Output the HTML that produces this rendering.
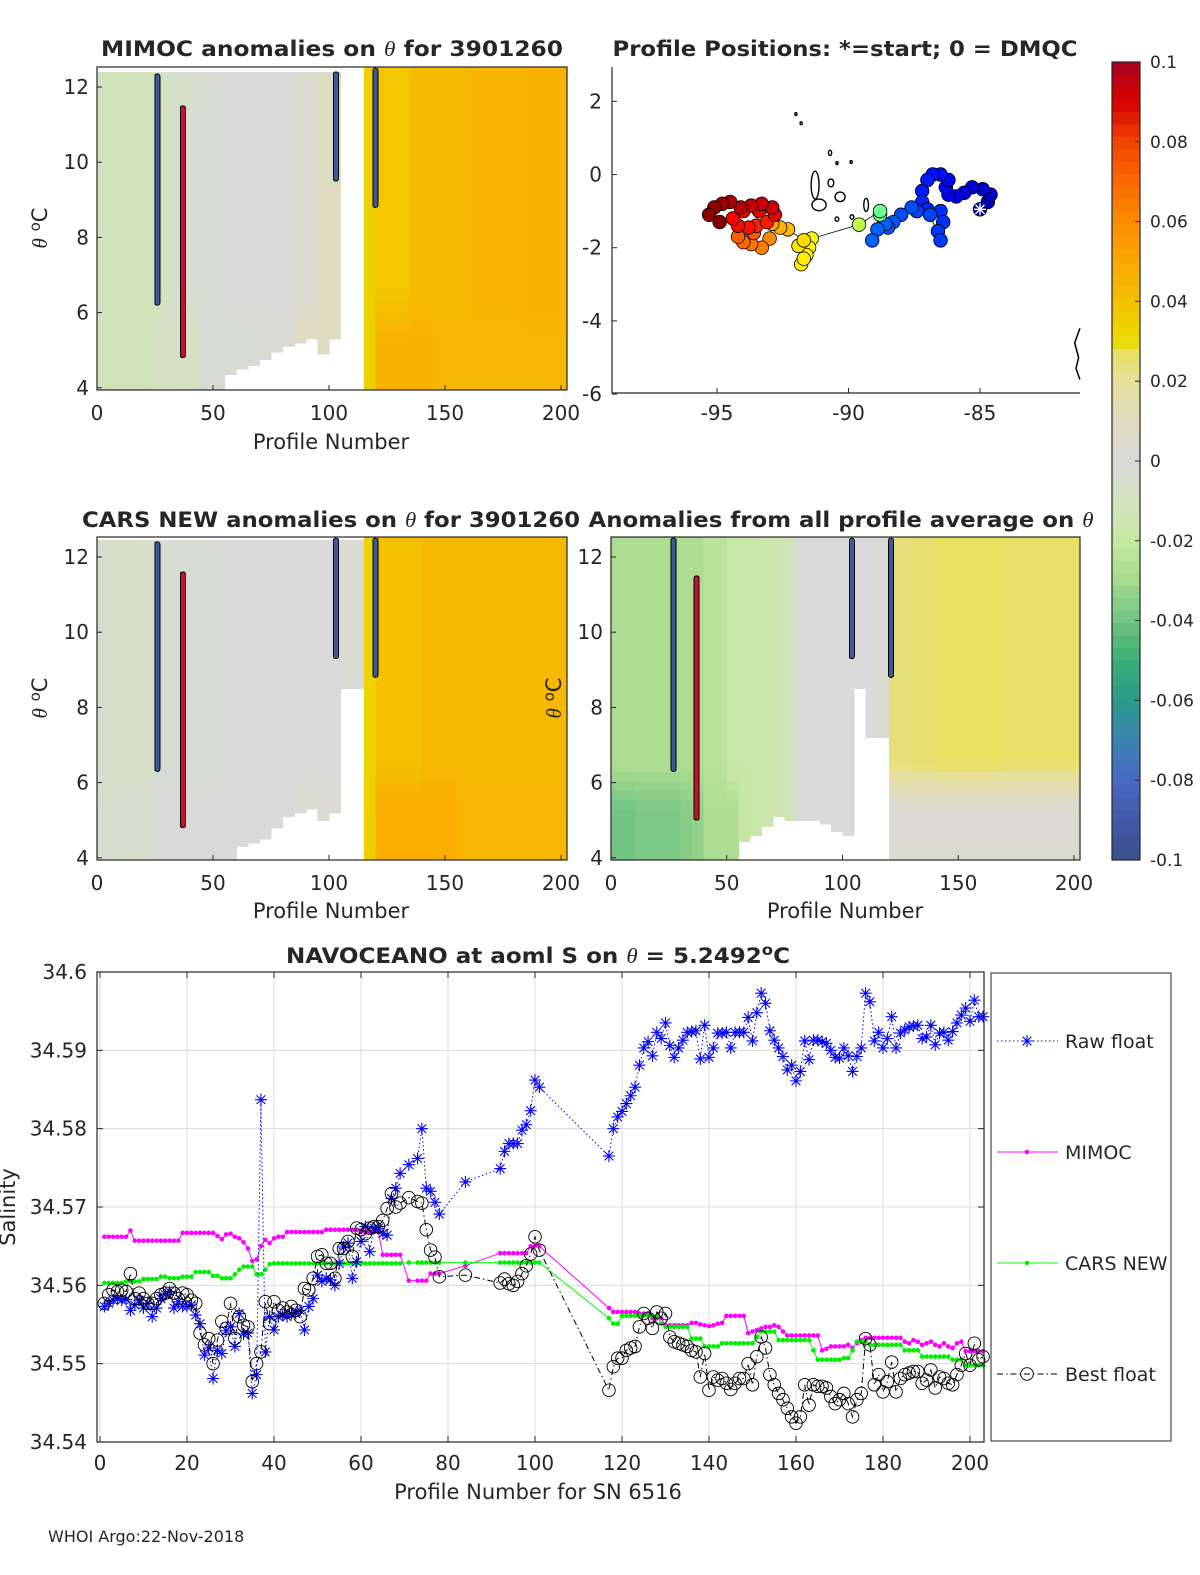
<!DOCTYPE html>
<html><head><meta charset="utf-8"><title>Argo float 3901260 anomaly figure</title>
<style>
html,body{margin:0;padding:0;background:#fff;}
svg{display:block;font-family:"DejaVu Sans","Liberation Sans",sans-serif;}
text{fill:#262626;}
</style></head>
<body>
<svg id="fig" xmlns="http://www.w3.org/2000/svg" width="1200" height="1575" viewBox="0 0 1200 1575">
<rect x="0" y="0" width="1200" height="1575" fill="#fff"/>
<g id="layer-heat"></g>
<g id="layer-axes"></g>

<text x="332" y="56" font-size="21" font-weight="bold" text-anchor="middle" textLength="462" lengthAdjust="spacingAndGlyphs">MIMOC anomalies on <tspan font-family="Liberation Serif" font-style="italic" font-weight="normal">θ</tspan>  for 3901260</text>
<text x="845" y="56" font-size="21" font-weight="bold" text-anchor="middle" textLength="465" lengthAdjust="spacingAndGlyphs">Profile Positions: *=start; 0 = DMQC</text>
<text x="331" y="527" font-size="21" font-weight="bold" text-anchor="middle" textLength="498" lengthAdjust="spacingAndGlyphs">CARS NEW anomalies on <tspan font-family="Liberation Serif" font-style="italic" font-weight="normal">θ</tspan> for 3901260</text>
<text x="841" y="527" font-size="21" font-weight="bold" text-anchor="middle" textLength="505" lengthAdjust="spacingAndGlyphs">Anomalies from all profile average on <tspan font-family="Liberation Serif" font-style="italic" font-weight="normal">θ</tspan></text>
<text x="538" y="963" font-size="21" font-weight="bold" text-anchor="middle" textLength="504" lengthAdjust="spacingAndGlyphs">NAVOCEANO at aoml S on <tspan font-family="Liberation Serif" font-style="italic" font-weight="normal">θ</tspan> = 5.2492<tspan dy="-8" font-size="15">o</tspan><tspan dy="8">C</tspan></text>

<text x="331" y="449" font-size="21" text-anchor="middle">Profile Number</text>
<text x="331" y="918" font-size="21" text-anchor="middle">Profile Number</text>
<text x="845" y="918" font-size="21" text-anchor="middle">Profile Number</text>
<text transform="translate(47,228) rotate(-90)" font-size="21" text-anchor="middle"><tspan font-family="Liberation Serif" font-style="italic">θ</tspan> <tspan dy="-7" font-size="15">o</tspan><tspan dy="7">C</tspan></text>
<text transform="translate(47,698) rotate(-90)" font-size="21" text-anchor="middle"><tspan font-family="Liberation Serif" font-style="italic">θ</tspan> <tspan dy="-7" font-size="15">o</tspan><tspan dy="7">C</tspan></text>
<text transform="translate(561,698) rotate(-90)" font-size="21" text-anchor="middle"><tspan font-family="Liberation Serif" font-style="italic">θ</tspan> <tspan dy="-7" font-size="15">o</tspan><tspan dy="7">C</tspan></text>
<text transform="translate(15,1207) rotate(-90)" font-size="21" text-anchor="middle">Salinity</text>
<text x="538" y="1499" font-size="21" text-anchor="middle">Profile Number for SN 6516</text>
<text x="48" y="1542" font-size="16">WHOI Argo:22-Nov-2018</text>
</svg>

<script>
// ---------------- Salinity chart data ----------------
const profiles = [1,2,3,4,5,6,7,8,9,10,11,12,13,14,15,16,17,18,19,20,21,22,23,24,25,26,27,28,29,30,31,32,33,34,35,36,37,38,39,40,41,42,43,44,45,46,47,48,49,50,51,52,53,54,55,56,57,58,59,60,61,62,63,64,65,66,67,68,69,
71,73,74,75,76,77,78,84,92,93,94,95,96,97,98,99,100,101,
117,118,119,120,121,122,123,124,125,126,127,128,129,130,131,132,133,134,135,136,137,138,139,140,141,142,143,144,145,146,147,148,149,150,151,152,153,154,155,156,157,158,159,160,161,162,163,164,165,166,167,168,169,170,171,172,173,174,175,176,177,178,179,180,181,182,183,184,185,186,187,188,189,190,191,192,193,194,195,196,197,198,199,200,201,202,203];

const rawFloat = [34.5573,34.5577,34.5581,34.5583,34.5581,34.5582,34.5568,34.5575,34.5581,34.5571,34.5577,34.5560,34.5571,34.5583,34.5588,34.5592,34.5571,34.5579,34.5573,34.5573,34.5575,34.5562,
34.5551,34.5511,34.5520,34.5481,34.5517,34.5513,34.5542,34.5547,34.5522,34.5564,34.5538,34.5539,34.5462,34.5486,34.5837,34.5515,34.5560,34.5543,34.5560,34.5562,34.5560,34.5564,34.5564,34.5568,34.5543,34.5573,34.5583,34.5613,34.5605,34.5609,34.5607,34.5600,34.5628,34.5649,34.5654,34.5609,34.5630,34.5656,34.5675,34.5643,34.5673,34.5673,34.5666,34.5664,34.5711,34.5724,34.5743,
34.5754,34.5762,34.5800,34.5724,34.5720,34.5706,34.5691,34.5732,34.5749,34.5771,34.5781,34.5781,34.5781,34.5798,34.5805,34.5823,34.5862,34.5853,
34.5765,34.5800,34.5815,34.5822,34.5832,34.5842,34.5853,34.5881,34.5903,34.5911,34.5893,34.5923,34.5915,34.5935,34.5906,34.5891,34.5903,34.5913,34.5923,34.5924,34.5925,34.5889,34.5932,34.5891,34.5903,34.5922,34.5922,34.5923,34.5903,34.5923,34.5923,34.5923,34.5942,34.5912,34.5948,34.5973,34.5960,34.5925,34.5913,34.5903,34.5892,34.5875,34.5881,34.5861,34.5873,34.5912,34.5888,34.5913,34.5913,34.5911,34.5909,34.5900,34.5891,34.5890,34.5903,34.5893,34.5873,34.5892,34.5903,34.5973,34.5962,34.5912,34.5923,34.5903,34.5915,34.5943,34.5903,34.5922,34.5926,34.5930,34.5931,34.5932,34.5915,34.5917,34.5932,34.5907,34.5922,34.5923,34.5913,34.5924,34.5935,34.5945,34.5954,34.5937,34.5964,34.5943,34.5943];

const mimoc = [34.5662,34.5662,34.5662,34.5662,34.5662,34.5662,34.5670,34.5657,34.5657,34.5657,34.5657,34.5657,34.5657,34.5657,34.5657,34.5657,34.5657,34.5657,34.5667,34.5667,34.5667,34.5667,34.5667,34.5667,34.5667,34.5667,
34.5663,34.5659,34.5665,34.5666,34.5662,34.5660,34.5655,34.5647,34.5631,34.5633,34.5650,34.5658,34.5654,34.5660,34.5662,34.5662,
34.5668,34.5668,34.5668,34.5668,34.5668,34.5668,34.5668,34.5668,34.5668,34.5671,34.5671,34.5671,34.5671,34.5671,34.5671,34.5671,34.5671,34.5668,34.5668,34.5668,34.5668,34.5668,34.5639,34.5639,34.5639,34.5639,34.5639,
34.5606,34.5606,34.5606,34.5606,34.5615,34.5615,34.5615,34.5625,34.5641,34.5641,34.5641,34.5641,34.5641,34.5641,34.5641,34.5650,34.5650,34.5650,
34.5571,34.5566,34.5566,34.5566,34.5566,34.5566,34.5566,34.5564,34.5564,34.5564,34.5558,34.5558,34.5558,34.5549,34.5549,34.5549,34.5549,34.5549,34.5549,34.5552,34.5552,34.5550,34.5549,34.5548,34.5549,34.5551,34.5552,34.5561,34.5561,34.5561,34.5561,34.5561,
34.5539,34.5541,34.5543,34.5545,34.5547,34.5547,34.5549,34.5547,34.5541,34.5536,34.5536,34.5536,34.5536,34.5536,34.5536,34.5536,34.5536,34.5517,34.5519,34.5522,34.5522,34.5522,34.5522,34.5524,34.5520,34.5526,34.5530,
34.5533,34.5533,34.5533,34.5533,34.5533,34.5533,34.5533,34.5533,34.5533,34.5528,34.5526,34.5530,34.5528,34.5524,34.5526,34.5528,34.5524,34.5522,34.5526,34.5522,34.5520,34.5526,34.5528,34.5516,34.5516,34.5516,34.5516,34.5516];

const carsNew = [34.5603,34.5603,34.5603,34.5603,34.5603,34.5605,34.5605,34.5605,34.5605,34.5608,34.5608,34.5608,34.5608,34.5611,34.5611,34.5609,34.5609,34.5609,34.5611,34.5611,34.5611,34.5617,34.5617,34.5617,34.5617,34.5612,34.5612,34.5609,34.5609,34.5609,34.5614,34.5620,34.5624,34.5624,34.5624,34.5614,34.5614,34.5620,34.5627,
34.5628,34.5628,34.5628,34.5628,34.5628,34.5628,34.5628,34.5628,34.5628,34.5628,34.5628,34.5628,34.5628,34.5628,34.5628,34.5628,34.5628,34.5628,34.5628,34.5628,34.5628,34.5628,34.5628,34.5628,34.5628,34.5628,34.5628,34.5628,34.5628,34.5628,
34.5629,34.5629,34.5629,34.5629,34.5629,34.5629,34.5629,34.5629,34.5629,34.5629,34.5629,34.5629,34.5629,34.5629,34.5629,34.5629,34.5629,34.5629,
34.5558,34.5551,34.5551,34.5561,34.5561,34.5561,34.5561,34.5561,34.5561,34.5561,34.5561,34.5561,34.5551,34.5547,34.5547,34.5547,34.5547,34.5547,34.5547,34.5532,34.5532,34.5532,34.5522,34.5522,34.5522,34.5522,
34.5526,34.5526,34.5526,34.5526,34.5526,34.5526,34.5526,34.5526,34.5534,34.5541,34.5541,34.5541,34.5541,34.5530,34.5530,34.5530,34.5530,34.5530,34.5530,34.5530,34.5530,34.5517,34.5505,34.5505,34.5505,34.5505,34.5505,34.5505,34.5507,34.5507,34.5517,34.5528,34.5528,34.5528,
34.5524,34.5524,34.5524,34.5524,34.5524,34.5524,34.5524,34.5524,34.5517,34.5517,34.5517,34.5517,34.5509,34.5509,34.5509,34.5509,34.5509,34.5509,34.5509,34.5505,34.5505,34.5505,34.5498,34.5498,34.5498,34.5498,34.5498];

const bestFloat = [34.5577,34.5588,34.5594,34.5592,34.5594,34.5592,34.5615,34.5583,34.5590,34.5583,34.5577,34.5577,34.5583,34.5588,34.5590,34.5596,34.5590,34.5583,34.5590,34.5588,34.5581,34.5577,
34.5539,34.5524,34.5532,34.5500,34.5530,34.5554,34.5545,34.5577,34.5532,34.5560,34.5549,34.5547,34.5477,34.5500,34.5515,34.5579,34.5551,34.5579,34.5568,34.5571,34.5566,34.5573,34.5568,34.5560,34.5596,34.5594,34.5609,34.5637,34.5639,34.5628,34.5628,34.5609,34.5647,34.5647,34.5656,34.5637,34.5673,34.5671,34.5666,34.5673,34.5675,34.5675,34.5683,34.5698,34.5717,34.5700,34.5705,
34.5712,34.5707,34.5705,34.5671,34.5645,34.5636,34.5611,34.5613,34.5603,34.5608,34.5602,34.5600,34.5605,34.5615,34.5625,34.5640,34.5662,34.5645,
34.5466,34.5496,34.5507,34.5507,34.5517,34.5520,34.5522,34.5547,34.5564,34.5558,34.5545,34.5566,34.5558,34.5564,34.5534,34.5528,34.5526,34.5524,34.5522,34.5517,34.5515,34.5483,34.5513,34.5466,34.5483,34.5479,34.5481,34.5475,34.5467,34.5475,34.5481,34.5481,34.5500,34.5473,34.5509,34.5534,34.5520,34.5486,34.5473,34.5462,34.5454,34.5443,34.5432,34.5424,34.5432,34.5473,34.5447,34.5473,34.5471,34.5471,34.5469,34.5458,34.5449,34.5454,34.5462,34.5449,34.5432,34.5454,34.5462,34.5532,34.5524,34.5473,34.5486,34.5464,34.5477,34.5502,34.5464,34.5481,34.5486,34.5488,34.5490,34.5490,34.5475,34.5479,34.5492,34.5469,34.5483,34.5481,34.5475,34.5473,34.5486,34.5498,34.5513,34.5498,34.5526,34.5505,34.5509];

const salXTicks = [0,20,40,60,80,100,120,140,160,180,200];
const salYTicks = [34.54,34.55,34.56,34.57,34.58,34.59,34.6];
const salYTickLabels = ["34.54","34.55","34.56","34.57","34.58","34.59","34.6"];
const legendLabels = ["Raw float","MIMOC","CARS NEW","Best float"];

// ---------------- Heatmap data (5-profile bins, 0..205) ----------------
const mimocUpper = [-0.012,-0.012,-0.012,-0.012,-0.012,-0.010,-0.006,-0.006,-0.003,-0.003,-0.003,0,0,0,0,0,0,0.004,0.004,0.010,0.010,null,null,0.034,0.038,0.038,0.038,0.042,0.042,0.042,0.042,0.042,0.045,0.045,0.045,0.045,0.045,0.046,0.046,0.046,0.046];
const mimocLower = [-0.012,-0.012,-0.012,-0.012,-0.012,-0.008,-0.008,-0.008,-0.008,-0.002,-0.002,-0.002,-0.002,-0.002,0.002,0.002,0.002,0.010,0.010,0.010,0.010,null,null,0.034,0.046,0.046,0.046,0.046,0.046,0.044,0.044,0.044,0.044,0.044,0.044,0.044,0.044,0.044,0.044,0.044,0.044];
const mimocBottom = [3.9,3.9,3.9,3.9,3.9,3.9,3.9,3.9,3.9,3.9,3.9,4.35,4.5,4.6,4.75,4.95,5.1,5.2,5.3,4.9,5.3,99,99,3.9,3.9,3.9,3.9,3.9,3.9,3.9,3.9,3.9,3.9,3.9,3.9,3.9,3.9,3.9,3.9,3.9,3.9];
const mimocTop = [12.4,12.4,12.4,12.4,12.4,12.4,12.4,12.4,12.4,12.4,12.4,12.4,12.4,12.4,12.4,12.4,12.4,12.4,12.4,12.4,12.4,12.4,12.4,12.6,12.6,12.6,12.6,12.6,12.6,12.6,12.6,12.6,12.6,12.6,12.6,12.6,12.6,12.6,12.6,12.6,12.6];

const carsUpper = [-0.006,-0.006,-0.006,-0.006,-0.006,-0.002,-0.002,-0.002,-0.002,-0.002,-0.002,0,0,0,0,0,0,0,0,0,0,0.002,0.002,0.033,0.040,0.040,0.040,0.040,0.043,0.043,0.043,0.043,0.043,0.043,0.043,0.043,0.043,0.043,0.043,0.043,0.043];
const carsLower = [-0.004,-0.004,-0.004,-0.004,-0.004,0,0,0,0,0,0,0,0,0,0,0,0,0.003,0.003,0.003,0.003,0.002,0.002,0.035,0.048,0.048,0.048,0.048,0.048,0.048,0.048,0.044,0.044,0.044,0.044,0.044,0.044,0.044,0.044,0.044,0.044];
const carsBottom = [3.9,3.9,3.9,3.9,3.9,3.9,3.9,3.9,3.9,3.9,3.9,3.9,4.3,4.4,4.5,4.8,5.1,5.2,5.3,5.0,5.2,8.5,8.5,3.9,3.9,3.9,3.9,3.9,3.9,3.9,3.9,3.9,3.9,3.9,3.9,3.9,3.9,3.9,3.9,3.9,3.9];
const carsTop = [12.45,12.45,12.45,12.45,12.45,12.45,12.45,12.45,12.45,12.45,12.45,12.45,12.45,12.45,12.45,12.45,12.45,12.45,12.45,12.45,12.45,12.45,12.45,12.6,12.6,12.6,12.6,12.6,12.6,12.6,12.6,12.6,12.6,12.6,12.6,12.6,12.6,12.6,12.6,12.6,12.6];

const avgUpper = [-0.028,-0.028,-0.028,-0.028,-0.028,-0.028,-0.028,-0.028,-0.024,-0.024,-0.018,-0.018,-0.018,-0.016,-0.014,-0.012,0,0,0,0,0,0,0,0.004,0.024,0.024,0.025,0.025,0.027,0.027,0.027,0.027,0.027,0.027,0.026,0.026,0.026,0.026,0.026,0.026,0.026];
const avgLower = [-0.040,-0.040,-0.038,-0.038,-0.038,-0.038,-0.036,-0.034,-0.028,-0.028,-0.028,-0.020,-0.018,-0.016,-0.014,-0.012,0,0,0,0,0,0,0,0.002,0.003,0.003,0.003,0.003,0.003,0.003,0.003,0.003,0.003,0.003,0.003,0.003,0.003,0.003,0.003,0.003,0.003];
const avgBottom = [3.9,3.9,3.9,3.9,3.9,3.9,3.9,3.9,3.9,3.9,3.9,4.43,4.6,4.83,5.1,5.0,5.0,5.0,4.9,4.7,4.6,8.5,7.2,7.2,3.9,3.9,3.9,3.9,3.9,3.9,3.9,3.9,3.9,3.9,3.9,3.9,3.9,3.9,3.9,3.9,3.9];
const avgTop = [12.55,12.55,12.55,12.55,12.55,12.55,12.55,12.55,12.55,12.55,12.55,12.55,12.55,12.55,12.55,12.55,12.55,12.55,12.55,12.55,12.55,12.55,12.55,12.55,12.55,12.55,12.55,12.55,12.55,12.55,12.55,12.55,12.55,12.55,12.55,12.55,12.55,12.55,12.55,12.55,12.55];

const markerProfiles = [26,37,103,120];
const markerThetaTop = [12.35,11.5,12.4,12.5];
const markerThetaBottom = [6.2,4.8,9.5,8.8];
const markerKind = ["blue","red","blue","blue"];
const avgMarkerProfiles = [27,37,104,121];
const avgMarkerThetaTop = [12.5,11.5,12.5,12.5];
const avgMarkerThetaBottom = [6.3,5.0,9.3,8.8];

const heatXTicks = [0,50,100,150,200];
const heatYTicks = [4,6,8,10,12];

// ---------------- Positions data ----------------
const posLon = [-85.0,-84.7,-84.6,-84.9,-85.3,-85.6,-85.9,-86.2,-86.3,-86.2,-86.5,-86.8,-87.0,-87.2,-87.2,-87.0,-86.5,-86.4,-86.6,-86.5,-86.9,-87.4,-87.6,-88.0,-88.3,-88.5,-88.6,-88.9,-89.1,-88.8,-88.8,-89.6,
-91.4,-91.5,-91.6,-91.8,-91.7,-91.9,-91.7,-92.3,-92.6,-92.9,-93.0,-93.3,-93.7,-94.0,-94.2,-93.6,-93.5,-93.1,-93.8,-94.2,-94.4,-94.0,-93.4,-92.8,-92.9,-93.3,-93.7,-94.1,-94.5,-94.8,-95.1,-95.3,-94.9];
const posLat = [-0.95,-0.75,-0.55,-0.4,-0.35,-0.5,-0.6,-0.55,-0.35,-0.15,0.0,0.0,-0.15,-0.45,-0.75,-0.95,-1.0,-1.3,-1.55,-1.8,-1.1,-1.0,-0.9,-1.1,-1.3,-1.45,-1.35,-1.5,-1.8,-1.1,-1.0,-1.37,
-1.75,-2.0,-2.2,-2.45,-2.3,-1.95,-1.8,-1.5,-1.45,-1.35,-1.75,-2.0,-1.9,-1.85,-1.7,-1.6,-1.4,-1.3,-1.45,-1.4,-1.2,-1.0,-1.0,-1.1,-0.9,-0.8,-0.85,-0.9,-0.75,-0.8,-0.9,-1.1,-1.3];
// relative time (0=start, 1=end) of each position, drives the jet colour
const posTime = [0.03,0.05,0.07,0.08,0.09,0.10,0.11,0.12,0.13,0.13,0.14,0.14,0.15,0.15,0.16,0.16,0.17,0.17,0.18,0.18,0.19,0.19,0.20,0.20,0.21,0.21,0.22,0.22,0.22,0.48,0.48,0.56,
0.62,0.63,0.63,0.64,0.64,0.65,0.66,0.69,0.70,0.71,0.74,0.75,0.76,0.77,0.78,0.79,0.84,0.85,0.86,0.87,0.88,0.89,0.90,0.90,0.92,0.93,0.94,0.95,0.96,0.97,0.98,0.99,1.0];
const posXTicks = [-95,-90,-85];
const posYTicks = [2,0,-2,-4,-6];
const islandLon = [-91.27,-91.12,-90.67,-90.32,-89.33,-90.44,-89.87,-92.0,-91.8,-90.7,-90.44,-89.9];
const islandLat = [-0.29,-0.83,-0.23,-0.61,-0.83,-1.22,-1.16,1.65,1.4,0.59,0.31,0.34];
const islandRx = [0.15,0.27,0.11,0.19,0.09,0.07,0.07,0.04,0.04,0.06,0.04,0.04];
const islandRy = [0.38,0.16,0.11,0.13,0.18,0.06,0.06,0.04,0.04,0.07,0.04,0.04];
const coastLon = [-81.2,-81.4,-81.25,-81.35,-81.2];
const coastLat = [-4.2,-4.6,-5.0,-5.3,-5.6];

const cbTicks = [0.1,0.08,0.06,0.04,0.02,0,-0.02,-0.04,-0.06,-0.08,-0.1];
const cbTickLabels = ["0.1","0.08","0.06","0.04","0.02","0","-0.02","-0.04","-0.06","-0.08","-0.1"];
const cmapVals = [-0.1,-0.09,-0.08,-0.07,-0.06,-0.05,-0.04,-0.03,-0.02,-0.01,0,0.01,0.02,0.027,0.03,0.04,0.05,0.06,0.07,0.08,0.09,0.1];
const cmapCols = ["#3b4f8a","#4359a8","#4768c4","#3b82b0","#2c9a8a","#3aae76","#72c484","#a6da8e","#c6e8a2","#d4e2c0","#d9d9d9","#dedcc0","#e6e09c","#e8e060","#eadc00","#f4c000","#fba800","#fd8c00","#fb6800","#ef4400","#d80000","#a80020"];

const NS = "http://www.w3.org/2000/svg";
const svg = document.getElementById("fig");
const heatLayer = document.getElementById("layer-heat");
const axLayer = document.getElementById("layer-axes");
function mk(tag, attrs, parent){
  const e = document.createElementNS(NS, tag);
  for (const k in attrs) e.setAttribute(k, attrs[k]);
  (parent || axLayer).appendChild(e);
  return e;
}
function hex2rgb(h){ return [parseInt(h.slice(1,3),16),parseInt(h.slice(3,5),16),parseInt(h.slice(5,7),16)]; }
function cmap(v){
  if (v <= cmapVals[0]) return cmapCols[0];
  if (v >= cmapVals[cmapVals.length-1]) return cmapCols[cmapCols.length-1];
  for (let i=0;i<cmapVals.length-1;i++){
    if (v >= cmapVals[i] && v <= cmapVals[i+1]){
      const t = (v-cmapVals[i])/(cmapVals[i+1]-cmapVals[i]);
      const a = hex2rgb(cmapCols[i]), b = hex2rgb(cmapCols[i+1]);
      return "rgb("+a.map((c,j)=>Math.round(c+(b[j]-c)*t)).join(",")+")";
    }
  }
  return cmapCols[0];
}
function jet(t){
  const r = Math.min(1,Math.max(0,1.5-Math.abs(4*t-3)));
  const g = Math.min(1,Math.max(0,1.5-Math.abs(4*t-2)));
  const b = Math.min(1,Math.max(0,1.5-Math.abs(4*t-1)));
  return "rgb("+Math.round(r*255)+","+Math.round(g*255)+","+Math.round(b*255)+")";
}

function heatPanel(cfg, upper, lower, bottom, top, mProf, mTop, mBot){
  const px = p => cfg.x0 + p*cfg.sx;
  const py = th => cfg.yRef - (th-12)*cfg.sy;
  const clipId = cfg.name + "-clip";
  const cp = mk("clipPath", {id: clipId}, svg);
  mk("rect", {x: cfg.left, y: cfg.top, width: cfg.right-cfg.left, height: cfg.bottom-cfg.top}, cp);
  const g = mk("g", {"clip-path": "url(#"+clipId+")", "shape-rendering": "crispEdges"}, heatLayer);
  
  
  for (let i=0;i<upper.length;i++){
    if (upper[i] === null) continue;
    for (let t0=3.8; t0<12.8; t0+=0.25){
      const lo = Math.max(t0, bottom[i]), hi = Math.min(t0+0.25, top[i]);
      if (hi <= lo) continue;
      const tc = (lo+hi)/2;
      let w = (tc - 5.3)/1.2; w = Math.max(0, Math.min(1, w));
      const v = lower[i] + (upper[i]-lower[i])*w;
      const r = mk("rect", {x: px(5*i), y: py(hi), width: 5*cfg.sx+0.6, height: py(lo)-py(hi)+0.6, fill: cmap(v)}, g);
      
      
    }
  }
  for (let k=0;k<mProf.length;k++){
    const col = markerKind[k] === "red" ? "#c8102e" : "#3c5a9a";
    const bar = mk("rect", {x: px(mProf[k])-2.5, y: py(mTop[k]), width: 5, height: py(mBot[k])-py(mTop[k]), fill: col, stroke: "#000", "stroke-width": 1, rx: 2}, g);
    
    
  }
  heatFrame(cfg, px, py);
}
function heatFrame(cfg, px, py){
  const box = mk("rect", {x: cfg.left, y: cfg.top, width: cfg.right-cfg.left, height: cfg.bottom-cfg.top, fill: "none", stroke: "#262626", "stroke-width": 1.2});
  
  
  heatXTicks.forEach(t => {
    const x = px(t);
    const tk = mk("line", {x1: x, x2: x, y1: cfg.bottom, y2: cfg.bottom-5, stroke: "#262626"});
    
    
    const lb = mk("text", {x: x, y: cfg.bottom+30, "font-size": 20, "text-anchor": "middle"});
    lb.textContent = String(t);
    
    
  });
  heatYTicks.forEach(t => {
    const y = py(t);
    const tk = mk("line", {x1: cfg.left, x2: cfg.left+5, y1: y, y2: y, stroke: "#262626"});
    
    
    const lb = mk("text", {x: cfg.left-8, y: y+7, "font-size": 20, "text-anchor": "end"});
    lb.textContent = String(t);
    
    
  });
}
heatPanel({name:"mimoc", x0:97, sx:2.32, yRef:87, sy:37.6, left:97, right:567, top:67, bottom:390}, mimocUpper, mimocLower, mimocBottom, mimocTop, markerProfiles, markerThetaTop, markerThetaBottom);
heatPanel({name:"cars", x0:97, sx:2.32, yRef:557, sy:37.6, left:97, right:567, top:537, bottom:860}, carsUpper, carsLower, carsBottom, carsTop, markerProfiles, [12.4,11.6,12.5,12.5], [6.3,4.8,9.3,8.8]);
heatPanel({name:"average", x0:611, sx:2.315, yRef:557, sy:37.6, left:611, right:1080, top:537, bottom:860}, avgUpper, avgLower, avgBottom, avgTop, avgMarkerProfiles, avgMarkerThetaTop, avgMarkerThetaBottom);

(function(){
  const L=612, R=1080, T=67, B=393;
  const lx = lon => 717 + (lon+95)*26.3;
  const ly = lat => 174.5 - lat*36.6;
  const g = mk("g", {});
  
  
  for (let k=0;k<islandLon.length;k++){
    const isl = mk("ellipse", {cx: lx(islandLon[k]), cy: ly(islandLat[k]), rx: islandRx[k]*26.3, ry: islandRy[k]*36.6, fill: "none", stroke: "#000", "stroke-width": 1.4}, g);
    
    
  }
  const coast = mk("polyline", {points: coastLon.map((v,i)=>lx(v)+","+ly(coastLat[i])).join(" "), fill: "none", stroke: "#000", "stroke-width": 1.5}, g);
  
  
  const track = mk("polyline", {points: posLon.map((v,i)=>lx(v)+","+ly(posLat[i])).join(" "), fill: "none", stroke: "#000", "stroke-width": 0.8}, g);
  
  
  for (let k=0;k<posLon.length;k++){
    const c = mk("circle", {cx: lx(posLon[k]), cy: ly(posLat[k]), r: 6.8, fill: jet(posTime[k]), stroke: "#000", "stroke-width": 0.8}, g);
    
    
  }
  const sx = lx(posLon[0]), sy = ly(posLat[0]);
  const star = mk("path", {d: "M"+(sx-6)+" "+sy+"H"+(sx+6)+"M"+sx+" "+(sy-6)+"V"+(sy+6)+"M"+(sx-4.5)+" "+(sy-4.5)+"L"+(sx+4.5)+" "+(sy+4.5)+"M"+(sx-4.5)+" "+(sy+4.5)+"L"+(sx+4.5)+" "+(sy-4.5), stroke: "#fff", "stroke-width": 1.4}, g);
  
  
  const box = mk("path", {d: "M"+L+" "+T+"V"+B+"H"+R, fill: "none", stroke: "#262626", "stroke-width": 1.2});
  
  
  posXTicks.forEach(t => {
    const tk = mk("line", {x1: lx(t), x2: lx(t), y1: B, y2: B-5, stroke: "#262626"});
    
    
    const lb = mk("text", {x: lx(t), y: B+27, "font-size": 20, "text-anchor": "middle"});
    lb.textContent = String(t);
    
    
  });
  posYTicks.forEach(t => {
    const tk = mk("line", {x1: L, x2: L+5, y1: ly(t), y2: ly(t), stroke: "#262626"});
    
    
    const lb = mk("text", {x: L-10, y: ly(t)+7, "font-size": 20, "text-anchor": "end"});
    lb.textContent = String(t);
    
    
  });
})();

(function(){
  const L=1112, W=28, T=62, B=860;
  const cy = v => T + (0.1 - v)/0.2*(B-T);
  const g = mk("g", {"shape-rendering": "crispEdges"});
  
  
  const n = 64;
  for (let i=0;i<n;i++){
    const v1 = 0.1 - 0.2*i/n, v2 = 0.1 - 0.2*(i+1)/n;
    const r = mk("rect", {x: L, y: cy(v1), width: W, height: cy(v2)-cy(v1)+0.5, fill: cmap((v1+v2)/2)}, g);
    
    
  }
  const fr = mk("rect", {x: L, y: T, width: W, height: B-T, fill: "none", stroke: "#262626", "stroke-width": 1.2});
  
  
  cbTicks.forEach((t,i) => {
    const tk = mk("line", {x1: L+W-5, x2: L+W, y1: cy(t), y2: cy(t), stroke: "#262626"});
    
    
    const lb = mk("text", {x: L+W+10, y: cy(t)+6, "font-size": 17});
    lb.textContent = cbTickLabels[i];
    
    
  });
})();

(function(){
  const L=97, R=984, T=972, B=1442;
  const bx = p => 100 + p*4.35;
  const by = v => 972 + (34.6 - v)*7833;
  const grid = mk("g", {});
  
  
  salXTicks.forEach(t => {
    const gl = mk("line", {x1: bx(t), x2: bx(t), y1: T, y2: B, stroke: "#dcdcdc", "stroke-width": 1}, grid);
    
    
    const tk = mk("line", {x1: bx(t), x2: bx(t), y1: B, y2: B-6, stroke: "#262626"});
    
    
    const tk2 = mk("line", {x1: bx(t), x2: bx(t), y1: T, y2: T+6, stroke: "#262626"});
    
    
    const lb = mk("text", {x: bx(t), y: B+28, "font-size": 20, "text-anchor": "middle"});
    lb.textContent = String(t);
    
    
  });
  salYTicks.forEach((t,i) => {
    const gl = mk("line", {x1: L, x2: R, y1: by(t), y2: by(t), stroke: "#dcdcdc", "stroke-width": 1}, grid);
    
    
    const tk = mk("line", {x1: L, x2: L+6, y1: by(t), y2: by(t), stroke: "#262626"});
    
    
    const tk2 = mk("line", {x1: R, x2: R-6, y1: by(t), y2: by(t), stroke: "#262626"});
    
    
    const lb = mk("text", {x: L-10, y: by(t)+7, "font-size": 20, "text-anchor": "end"});
    lb.textContent = salYTickLabels[i];
    
    
  });
  const pts = arr => arr.map((v,i)=>bx(profiles[i]).toFixed(1)+","+by(v).toFixed(1)).join(" ");
  function star(x,y,parent,s){
    return mk("path", {d: "M"+(x-s)+" "+y+"H"+(x+s)+"M"+x+" "+(y-s)+"V"+(y+s)+"M"+(x-s*0.72)+" "+(y-s*0.72)+"L"+(x+s*0.72)+" "+(y+s*0.72)+"M"+(x-s*0.72)+" "+(y+s*0.72)+"L"+(x+s*0.72)+" "+(y-s*0.72), stroke: "#0000ff", "stroke-width": 1.1, fill: "none"}, parent);
  }
  const gm = mk("g", {});
  
  
  const lm = mk("polyline", {points: pts(mimoc), fill: "none", stroke: "#ff00ff", "stroke-width": 1}, gm);
  
  
  mimoc.forEach((v,i) => {
    const d = mk("circle", {cx: bx(profiles[i]), cy: by(v), r: 2.3, fill: "#ff00ff"}, gm);
    
    
  });
  const gc = mk("g", {});
  
  
  const lc = mk("polyline", {points: pts(carsNew), fill: "none", stroke: "#00ff00", "stroke-width": 1}, gc);
  
  
  carsNew.forEach((v,i) => {
    const d = mk("circle", {cx: bx(profiles[i]), cy: by(v), r: 2.3, fill: "#00ee00"}, gc);
    
    
  });
  const gr = mk("g", {});
  
  
  const lr = mk("polyline", {points: pts(rawFloat), fill: "none", stroke: "#0000ff", "stroke-width": 1, "stroke-dasharray": "1.5 2.5"}, gr);
  
  
  rawFloat.forEach((v,i) => {
    const s = star(bx(profiles[i]), by(v), gr, 6);
    
    
  });
  const gb = mk("g", {});
  
  
  const lb2 = mk("polyline", {points: pts(bestFloat), fill: "none", stroke: "#000", "stroke-width": 1, "stroke-dasharray": "6 3 1.5 3"}, gb);
  
  
  bestFloat.forEach((v,i) => {
    const c = mk("circle", {cx: bx(profiles[i]), cy: by(v), r: 6.3, fill: "none", stroke: "#000", "stroke-width": 0.9}, gb);
    
    
  });
  const box = mk("rect", {x: L, y: T, width: R-L, height: B-T, fill: "none", stroke: "#262626", "stroke-width": 1.2});
  
  

  const lg = mk("g", {});
  
  
  const lbox = mk("rect", {x: 991, y: 973, width: 180, height: 468, fill: "#fff", stroke: "#262626", "stroke-width": 1}, lg);
  
  
  const ly = [1041, 1152, 1263, 1374];
  const styles = [
    {stroke: "#0000ff", "stroke-dasharray": "1.5 2.5"},
    {stroke: "#ff00ff"},
    {stroke: "#00ff00"},
    {stroke: "#000", "stroke-dasharray": "6 3 1.5 3"}
  ];
  legendLabels.forEach((name,i) => {
    const attrs = {x1: 997, x2: 1058, y1: ly[i], y2: ly[i], "stroke-width": 1};
    for (const k in styles[i]) attrs[k] = styles[i][k];
    const ln = mk("line", attrs, lg);
    
    
    let mkr;
    if (i === 0) mkr = star(1027, ly[i], lg, 6);
    else if (i === 3) mkr = mk("circle", {cx: 1027, cy: ly[i], r: 6.3, fill: "none", stroke: "#000", "stroke-width": 0.9}, lg);
    else mkr = mk("circle", {cx: 1027, cy: ly[i], r: 2.3, fill: i===1 ? "#ff00ff" : "#00ee00"}, lg);
    
    
    const tx = mk("text", {x: 1065, y: ly[i]+7, "font-size": 19}, lg);
    tx.textContent = name;
    
    
  });
})();
</script>
</body></html>
